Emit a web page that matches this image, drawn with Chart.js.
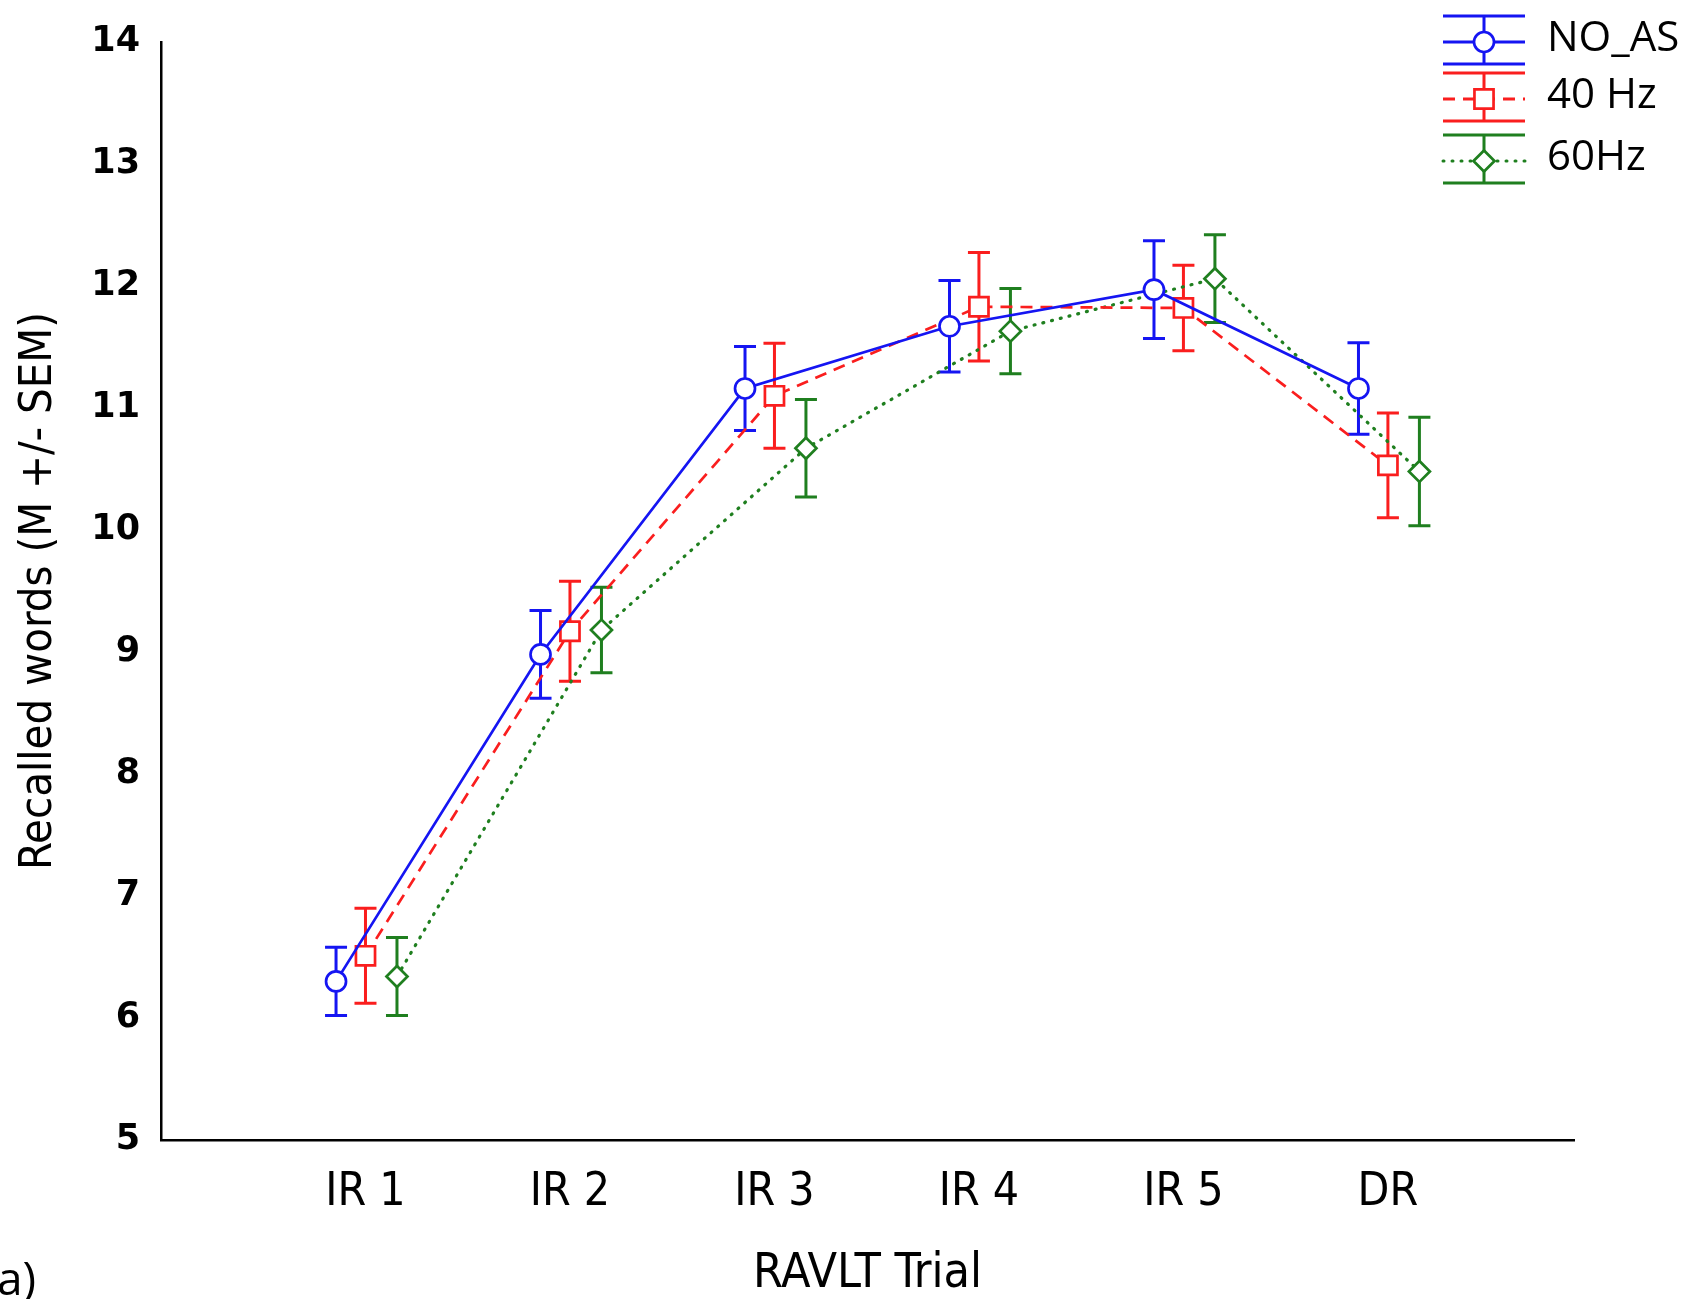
<!DOCTYPE html>
<html><head><meta charset="utf-8">
<script src="https://cdn.jsdelivr.net/npm/chart.js@4.4.1/dist/chart.umd.min.js"></script>
<style>html,body{margin:0;padding:0;background:#fff;overflow:hidden}canvas{display:block}</style>
</head><body>
<canvas id="c" width="1687" height="1299"></canvas>
<script>
// ---- data ----
const categories = ['IR 1', 'IR 2', 'IR 3', 'IR 4', 'IR 5', 'DR'];
const seriesNames = ['NO_AS', '40 Hz', '60Hz'];
const noAsMean = [6.30, 8.98, 11.16, 11.67, 11.97, 11.16];
const noAsSem  = [0.28, 0.36, 0.345, 0.375, 0.40, 0.375];
const hz40Mean = [6.51, 9.17, 11.10, 11.83, 11.82, 10.53];
const hz40Sem  = [0.39, 0.41, 0.43, 0.445, 0.35, 0.43];
const hz60Mean = [6.34, 9.18, 10.67, 11.63, 12.06, 10.48];
const hz60Sem  = [0.32, 0.35, 0.40, 0.35, 0.36, 0.445];
const yTickValues = [5, 6, 7, 8, 9, 10, 11, 12, 13, 14];

// ---- styles ----
const BLUE = '#1515f2', RED = '#fa1e1e', GREEN = '#1f7f1f';
const NARROW = '"Liberation Sans Narrow", "DejaVu Sans Condensed", "Liberation Sans", sans-serif';
const series = [
  {name: seriesNames[0], mean: noAsMean, sem: noAsSem, color: BLUE,  dash: [],      cap: 'butt',  style: 'circle',  radius: 10,  offset: -0.144},
  {name: seriesNames[1], mean: hz40Mean, sem: hz40Sem, color: RED,   dash: [12, 8], cap: 'butt',  style: 'rect',    radius: 13.5, offset: 0},
  {name: seriesNames[2], mean: hz60Mean, sem: hz60Sem, color: GREEN, dash: [1, 8],  cap: 'round', style: 'rectRot', radius: 10.5, offset: 0.154}
];

const datasets = series.map(s => ({
  label: s.name,
  data: s.mean.map((v, i) => ({x: i + 1 + s.offset, y: v})),
  borderColor: s.color,
  borderWidth: s.cap === 'round' ? 3.2 : 2.7,
  borderDash: s.dash,
  borderCapStyle: s.cap,
  tension: 0,
  fill: false,
  pointStyle: s.style,
  pointRadius: s.radius,
  pointHoverRadius: s.radius,
  pointBackgroundColor: '#ffffff',
  pointBorderColor: s.color,
  pointBorderWidth: 2.7,
  clip: false
}));

const errorBars = {
  id: 'errorBars',
  beforeDatasetsDraw(chart) {
    const ctx = chart.ctx, ys = chart.scales.y;
    series.forEach((s, di) => {
      const meta = chart.getDatasetMeta(di);
      ctx.save();
      ctx.strokeStyle = s.color;
      ctx.lineWidth = 3;
      ctx.setLineDash([]);
      meta.data.forEach((pt, j) => {
        const x = pt.x;
        const yt = ys.getPixelForValue(s.mean[j] + s.sem[j]);
        const yb = ys.getPixelForValue(s.mean[j] - s.sem[j]);
        ctx.beginPath();
        ctx.moveTo(x, yt); ctx.lineTo(x, yb);
        ctx.moveTo(x - 11, yt); ctx.lineTo(x + 11, yt);
        ctx.moveTo(x - 11, yb); ctx.lineTo(x + 11, yb);
        ctx.stroke();
      });
      ctx.restore();
    });
  }
};

const customLegend = {
  id: 'customLegend',
  afterDraw(chart) {
    const ctx = chart.ctx;
    const rowsY = [42, 99, 161];
    const x0 = 1443, x1 = 1525, xc = 1484;
    series.forEach((s, i) => {
      const cy = rowsY[i];
      ctx.save();
      ctx.strokeStyle = s.color;
      ctx.lineWidth = 3;
      ctx.setLineDash([]);
      ctx.beginPath();
      ctx.moveTo(x0, cy - 26); ctx.lineTo(x1, cy - 26);
      ctx.moveTo(x0, cy + 22); ctx.lineTo(x1, cy + 22);
      ctx.moveTo(xc, cy - 26); ctx.lineTo(xc, cy + 22);
      ctx.stroke();
      ctx.lineCap = s.cap;
      ctx.setLineDash(s.dash);
      ctx.beginPath();
      ctx.moveTo(x0, cy); ctx.lineTo(x1, cy);
      ctx.stroke();
      ctx.setLineDash([]);
      ctx.fillStyle = '#ffffff';
      ctx.lineWidth = 2.7;
      Chart.helpers.drawPoint(ctx, {pointStyle: s.style, radius: s.radius, borderWidth: 2.7, rotation: 0}, xc, cy);
      ctx.fillStyle = '#000';
      ctx.font = '42px "Open Sans", "Liberation Sans", sans-serif';
      ctx.textAlign = 'left';
      ctx.textBaseline = 'middle';
      ctx.fillText(s.name, 1547, cy - 3);
      ctx.restore();
    });
    // panel label
    ctx.save();
    ctx.fillStyle = '#000';
    ctx.font = '46px "Open Sans", "Liberation Sans", sans-serif';
    ctx.textAlign = 'left';
    ctx.textBaseline = 'middle';
    ctx.fillText('a)', -3, 1282);
    ctx.restore();
  }
};

new Chart(document.getElementById('c'), {
  type: 'line',
  data: {datasets},
  options: {
    responsive: false,
    animation: false,
    devicePixelRatio: 1,
    layout: {padding: {top: 41, right: 113, bottom: 0, left: 0}},
    plugins: {legend: {display: false}, tooltip: {enabled: false}, title: {display: false}},
    scales: {
      x: {
        type: 'linear',
        min: 0,
        max: 6.91,
        afterBuildTicks: (sc) => { sc.ticks = categories.map((c, i) => ({value: i + 1})); },
        afterFit: (sc) => { sc.height = 159; },
        grid: {display: false, drawTicks: false},
        border: {display: true, color: '#000', width: 2.5},
        ticks: {
          color: '#000',
          padding: 25,
          autoSkip: false,
          maxRotation: 0,
          font: {family: NARROW, size: 46},
          callback: (v) => categories[Math.round(v) - 1] ?? ''
        },
        title: {display: true, text: 'RAVLT Trial', color: '#000', font: {family: NARROW, size: 48, lineHeight: 1}, padding: {top: 0, bottom: 0}}
      },
      y: {
        type: 'linear',
        min: 5,
        max: 14,
        afterBuildTicks: (sc) => { sc.ticks = yTickValues.map(v => ({value: v})); },
        afterFit: (sc) => { sc.width = 161; },
        grid: {display: false, drawTicks: false},
        border: {display: true, color: '#000', width: 2.5},
        ticks: {color: '#000', padding: 21, font: {family: '"DejaVu Sans", Verdana, sans-serif', size: 35, weight: 'bold'}},
        title: {display: true, text: 'Recalled words (M +/- SEM)', color: '#000', font: {family: NARROW, size: 45}, padding: {top: 12, bottom: 0}}
      }
    }
  },
  plugins: [errorBars, customLegend]
});
</script>
</body></html>
